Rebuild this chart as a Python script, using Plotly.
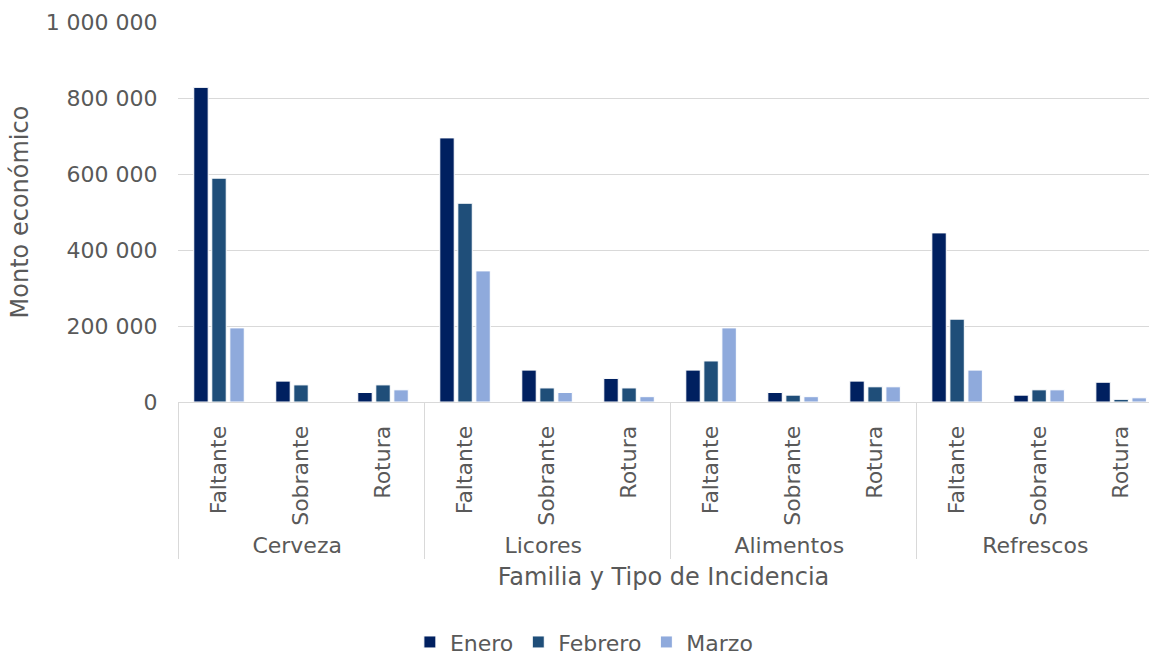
import plotly.graph_objects as go

# Familias y tipos de incidencia
familias = ["Cerveza", "Licores", "Alimentos", "Refrescos"]
tipos = ["Faltante", "Sobrante", "Rotura"]

# Monto económico por mes (orden: familia x tipo)
enero = [828000, 55000, 25000,
         695000, 84000, 62000,
         84000, 25000, 55000,
         445000, 18000, 52000]
febrero = [589000, 45000, 45000,
           523000, 37000, 37000,
           108000, 18000, 40000,
           218000, 32000, 7000]
marzo = [195000, 0, 32000,
         345000, 25000, 14000,
         195000, 14000, 40000,
         84000, 32000, 11000]

meses = ["Enero", "Febrero", "Marzo"]
colores = ["#002060", "#1F4E79", "#8FAADC"]

y_ticks = [0, 200000, 400000, 600000, 800000, 1000000]

x_outer = [f for f in familias for _ in tipos]
x_inner = [t for _ in familias for t in tipos]

font_family = "DejaVu Sans, Verdana, sans-serif"
gris = "#595959"

fig = go.Figure()
for nombre, valores, color in zip(meses, [enero, febrero, marzo], colores):
    fig.add_trace(go.Bar(
        name=nombre,
        x=[x_outer, x_inner],
        y=valores,
        marker=dict(color=color, line=dict(color="#ffffff", width=1)),
    ))

fig.update_layout(
    width=1149, height=658,
    margin=dict(l=178, r=0, t=22, b=256, autoexpand=False),
    paper_bgcolor="white", plot_bgcolor="white",
    barmode="group", bargap=0.34, bargroupgap=0.2,
    separators=". ",
    font=dict(family=font_family, size=22, color=gris),
    legend=dict(orientation="h", x=0.418, xanchor="center", xref="paper",
                y=-0.632, yanchor="middle",
                font=dict(size=22, color=gris), itemwidth=30,
                traceorder="normal"),
    xaxis=dict(
        type="multicategory",
        automargin=False,
        range=[-0.5, 11.34],
        tickangle=-90,
        showgrid=False,
        showline=True, linecolor="#d9d9d9", linewidth=1,
        showdividers=True, dividercolor="#d9d9d9", dividerwidth=1,
        ticks="outside", ticklen=0, tickcolor="white",
        ticklabelstandoff=14,
        tickfont=dict(size=22, color=gris),
        title=dict(text="Familia y Tipo de Incidencia",
                   font=dict(size=24, color=gris), standoff=10),
    ),
    yaxis=dict(
        automargin=False,
        range=[0, 1000000],
        tickvals=y_ticks,
        tickformat=",d",
        showgrid=True, gridcolor="#d9d9d9", gridwidth=1,
        zeroline=False, showline=False,
        ticks="outside", ticklen=0, tickcolor="white",
        ticklabelstandoff=15,
        tickfont=dict(size=22, color=gris),
        title=dict(text="Monto económico",
                   font=dict(size=24, color=gris), standoff=10),
    ),
)

fig.write_html("out.html")
